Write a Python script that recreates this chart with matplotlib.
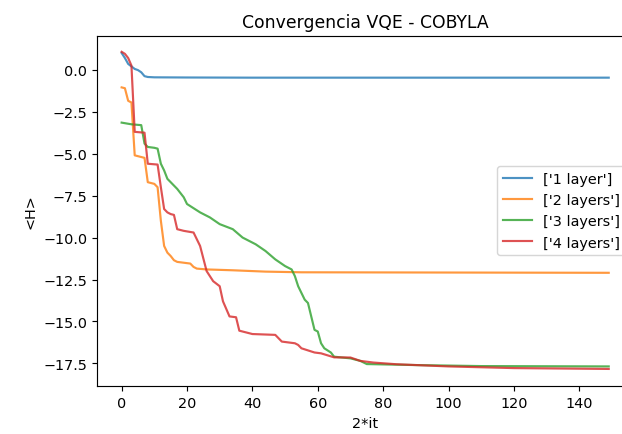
import matplotlib
matplotlib.use("Agg")
import matplotlib.pyplot as plt

# Energy <H> versus optimizer step for each ansatz depth (breakpoints of the traces)
labels = ["['1 layer']", "['2 layers']", "['3 layers']", "['4 layers']"]

x_1 = [0, 1, 2, 3, 4, 5, 6, 7, 8, 10, 20, 40, 149]
h_1 = [1.0, 0.7, 0.35, 0.2, 0.05, -0.02, -0.15, -0.38, -0.43, -0.45, -0.46, -0.47, -0.47]

x_2 = [0, 1, 2, 3, 4, 5, 6, 7, 8, 9, 10, 11, 12, 13, 14, 15, 16, 17, 19, 21,
       22, 23, 26, 34, 44, 55, 149]
h_2 = [-1.05, -1.1, -1.85, -1.95, -5.1, -5.15, -5.2, -5.25, -6.7, -6.75, -6.8,
       -7.0, -9.0, -10.5, -10.9, -11.1, -11.35, -11.45, -11.5, -11.55,
       -11.75, -11.85, -11.9, -11.95, -12.03, -12.07, -12.1]

x_3 = [0, 3, 6, 7, 8, 10, 11, 12, 13, 14, 16, 17, 19, 20, 22, 24, 27, 30, 34,
       37, 41, 44, 47, 50, 52, 53, 54, 56, 57, 58, 59, 60, 61, 62, 64, 65, 70,
       73, 75, 80, 90, 110, 149]
h_3 = [-3.15, -3.25, -3.3, -4.4, -4.6, -4.65, -4.7, -5.6, -6.0, -6.5, -6.9,
       -7.1, -7.6, -8.0, -8.25, -8.5, -8.8, -9.2, -9.5, -10.0, -10.4, -10.8,
       -11.3, -11.7, -11.9, -12.3, -12.9, -13.7, -13.9, -14.7, -15.5, -15.6,
       -16.3, -16.6, -16.85, -17.1, -17.2, -17.35, -17.54, -17.56, -17.6,
       -17.66, -17.68]

x_4 = [0, 1, 2, 3, 4, 7, 8, 11, 12, 13, 14, 15, 16, 17, 19, 22, 24, 26, 28,
       30, 31, 33, 35, 36, 40, 47, 49, 53, 54, 55, 59, 61, 65, 70, 73, 77, 84,
       100, 120, 149]
h_4 = [1.07, 0.95, 0.7, 0.25, -3.7, -3.75, -5.6, -5.65, -7.0, -8.3, -8.5,
       -8.6, -8.65, -9.5, -9.6, -9.7, -10.5, -12.0, -12.6, -12.9, -13.8,
       -14.7, -14.75, -15.55, -15.75, -15.8, -16.2, -16.3, -16.4, -16.6,
       -16.85, -16.9, -17.14, -17.15, -17.35, -17.45, -17.55, -17.68, -17.78,
       -17.83]

series = [(x_1, h_1), (x_2, h_2), (x_3, h_3), (x_4, h_4)]

dpi = 103.68
fig = plt.figure(figsize=(622 / dpi, 435 / dpi), dpi=dpi)
ax = fig.add_axes([0.1564, 0.111, 0.8614, 0.8046])

for (xs, hs), lab in zip(series, labels):
    ax.plot(xs, hs, label=lab, alpha=0.8)

ax.set_xlim(-7.45, 156.45)
ax.set_ylim(-18.83, 2.03)
ax.set_xticks([0, 20, 40, 60, 80, 100, 120, 140])
ax.set_yticks([0.0, -2.5, -5.0, -7.5, -10.0, -12.5, -15.0, -17.5])
ax.set_title("Convergencia VQE - COBYLA")
ax.set_xlabel("2*it")
ax.set_ylabel("<H>")
ax.legend(loc="center right")

fig.savefig("out.png", dpi=dpi)
